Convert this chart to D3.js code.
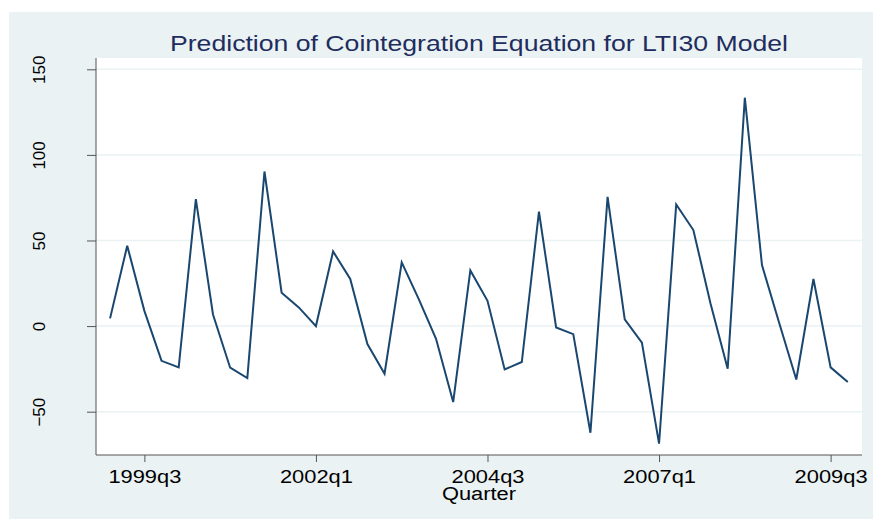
<!DOCTYPE html>
<html>
<head>
<meta charset="utf-8">
<script src="https://cdn.jsdelivr.net/npm/d3@7"></script>
<style>
  body { margin: 0; background: #fff; }
  text { font-family: "Liberation Sans", Arial, sans-serif; }
</style>
</head>
<body>
<div id="chart"></div>
<script>
// quarters in Stata numbering (0 = 1960q1), 1999q1 .. 2009q4
var quarters = d3.range(156, 200);
var values = [4.5, 46.9, 8.9, -20.3, -24.1, 74.2, 6.8, -24.3, -30.4, 90.3,
              19.5, 10.9, 0, 43.6, 27.5, -10.5, -27.8, 37.2, 15.6, -7.4,
              -44.4, 32.5, 14.8, -25.3, -21.0, 66.8, -0.8, -4.7, -62.3, 75.5,
              3.9, -9.7, -68.7, 71.1, 56.1, 13.2, -24.9, 133.4, 35.6, 1.9,
              -31.2, 27.5, -24.1, -32.7];
var xTicks = [158, 168, 178, 188, 198];
var yTicks = [-50, 0, 50, 100, 150];

function quarterLabel(q) {
  return (1960 + Math.floor(q / 4)) + "q" + (q % 4 + 1);
}

var width = 873, height = 519;

var svg = d3.select("#chart")
  .append("svg")
  .attr("width", width)
  .attr("height", height);

// stata-ish background
svg.append("rect")
  .attr("x", 9).attr("y", 12)
  .attr("width", width - 9).attr("height", height - 12)
  .attr("fill", "#eaf2f3");

var plotLeft = 96, plotRight = 862, plotTop = 58, plotBottom = 455;

svg.append("rect")
  .attr("x", plotLeft).attr("y", plotTop)
  .attr("width", plotRight - plotLeft).attr("height", plotBottom - plotTop)
  .attr("fill", "#fff");

var x = d3.scaleLinear()
  .domain([155.18, 199.83])
  .range([plotLeft, plotRight]);

var y = d3.scaleLinear()
  .domain([-75.3, 156.6])
  .range([plotBottom, plotTop]);

// grid
svg.append("g")
  .selectAll("line")
  .data(yTicks)
  .enter()
  .append("line")
  .attr("x1", plotLeft).attr("x2", plotRight)
  .attr("y1", function(d) { return y(d); })
  .attr("y2", function(d) { return y(d); })
  .style("stroke", "#eaf2f3")
  .style("stroke-width", 1.5);

// y axis
var yAxis = svg.append("g")
  .attr("transform", "translate(" + plotLeft + ",0)")
  .call(d3.axisLeft(y).tickValues(yTicks).tickSize(9).tickSizeOuter(0).tickFormat(d3.format("d")));
yAxis.select(".domain").attr("d", "M0," + plotTop + "V" + plotBottom).style("stroke", "#555");
yAxis.selectAll(".tick line").style("stroke", "#555");
yAxis.selectAll(".tick text")
  .attr("x", 0).attr("dy", 0)
  .attr("transform", "translate(-57,0) rotate(-90)")
  .attr("text-anchor", "middle")
  .attr("dominant-baseline", "central")
  .style("font-size", "17px")
  .style("fill", "#000");

// x axis
var xAxis = svg.append("g")
  .attr("transform", "translate(0," + plotBottom + ")")
  .call(d3.axisBottom(x).tickValues(xTicks).tickSize(7).tickSizeOuter(0).tickFormat(quarterLabel));
xAxis.select(".domain").attr("d", "M" + plotLeft + ",0H" + plotRight).style("stroke", "#555");
xAxis.selectAll(".tick line").style("stroke", "#555");
xAxis.selectAll(".tick text")
  .attr("y", 28).attr("dy", 0)
  .attr("textLength", 73)
  .attr("lengthAdjust", "spacingAndGlyphs")
  .style("font-size", "18px")
  .style("fill", "#000");

svg.append("text")
  .attr("x", (plotLeft + plotRight) / 2)
  .attr("y", 500)
  .attr("text-anchor", "middle")
  .attr("textLength", 74)
  .attr("lengthAdjust", "spacingAndGlyphs")
  .style("font-size", "18px")
  .text("Quarter");

svg.append("text")
  .attr("x", (plotLeft + plotRight) / 2)
  .attr("y", 51)
  .attr("text-anchor", "middle")
  .attr("textLength", 618)
  .attr("lengthAdjust", "spacingAndGlyphs")
  .style("font-size", "22px")
  .style("fill", "#1e2d5e")
  .text("Prediction of Cointegration Equation for LTI30 Model");

var line = d3.line()
  .x(function(d, i) { return x(quarters[i]); })
  .y(function(d) { return y(d); });

svg.append("path")
  .datum(values)
  .attr("d", line)
  .style("fill", "none")
  .style("stroke", "#1a476f")
  .style("stroke-width", 2);
</script>
</body>
</html>
